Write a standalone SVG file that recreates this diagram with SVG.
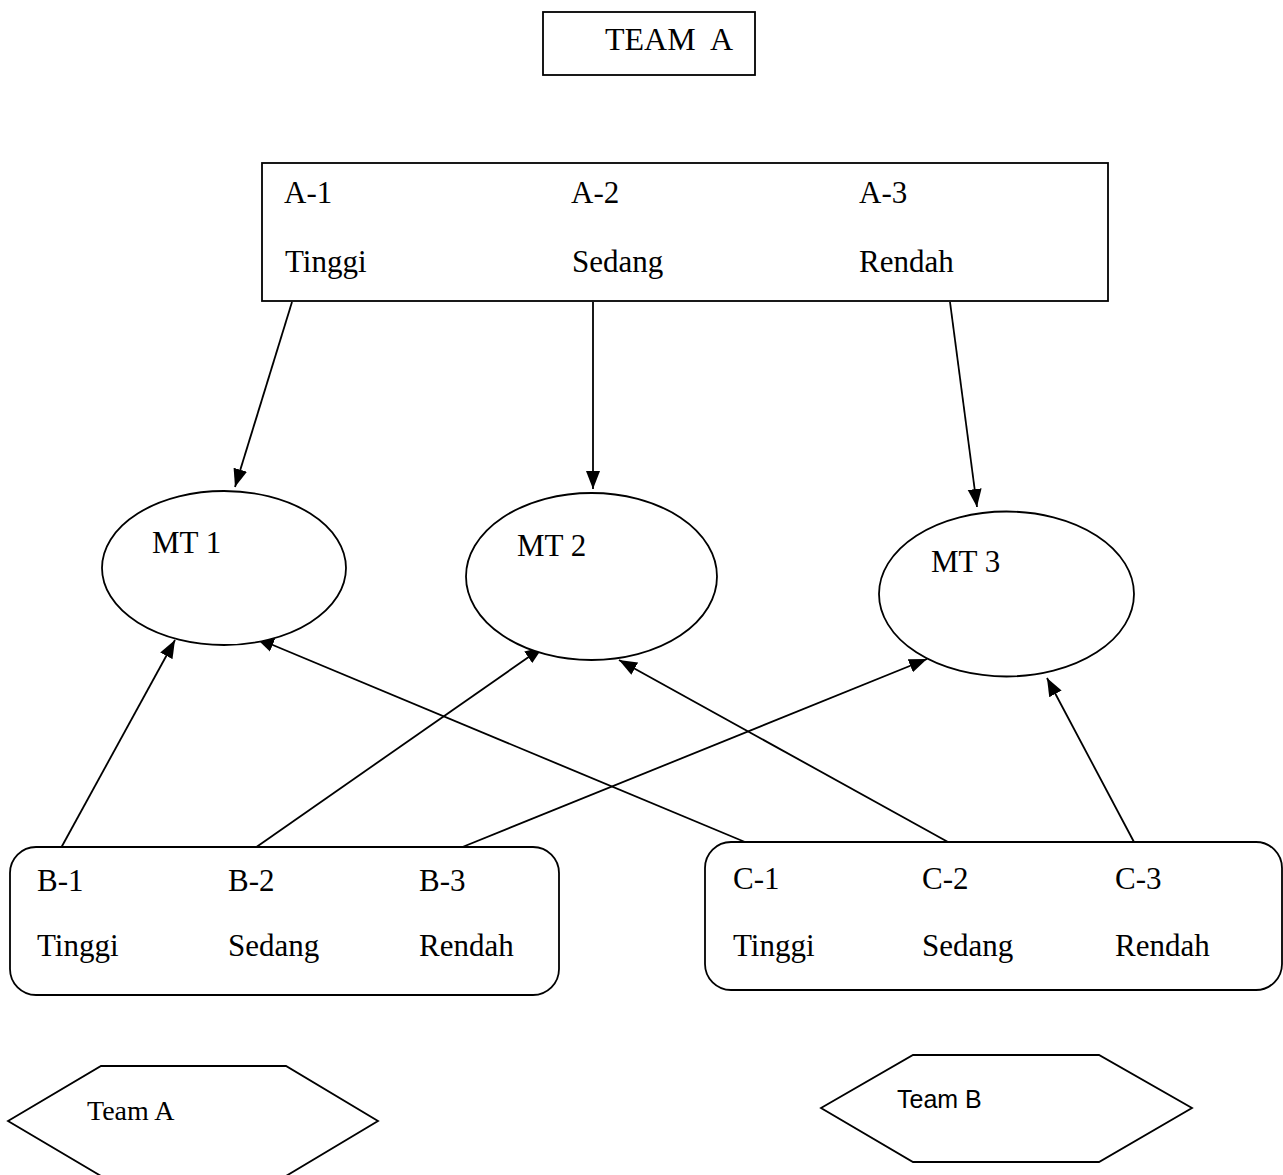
<svg xmlns="http://www.w3.org/2000/svg" width="1283" height="1175" viewBox="0 0 1283 1175">
<style>
.s{fill:#fff;stroke:#000;stroke-width:1.8}
.t{font-family:"Liberation Serif","Times New Roman",serif;font-size:31px;fill:#000}
.c{stroke:#000;stroke-width:1.8;fill:none;marker-end:url(#ah)}
.sans{font-family:"Liberation Sans",Arial,sans-serif;font-size:25px;fill:#000}
</style>
<defs>
<marker id="ah" markerUnits="userSpaceOnUse" markerWidth="20" markerHeight="16" refX="18" refY="7" orient="auto" viewBox="0 0 20 14">
<path d="M0,0 L18,7 L0,14 Z" fill="#000"/>
</marker>
</defs>
<rect width="1283" height="1175" fill="#fff"/>
<g id="connectors">
<line class="c" x1="292" y1="302" x2="235" y2="487"/>
<line class="c" x1="593" y1="302" x2="593" y2="489"/>
<line class="c" x1="950" y1="302" x2="977" y2="507"/>
<line class="c" x1="61" y1="848" x2="175" y2="640"/>
<line class="c" x1="255" y1="848" x2="543" y2="647"/>
<line class="c" x1="460" y1="848" x2="927" y2="659"/>
<line class="c" x1="745" y1="842" x2="256" y2="638"/>
<line class="c" x1="948" y1="842" x2="619" y2="660"/>
<line class="c" x1="1134" y1="842" x2="1047" y2="678"/>
</g>
<g id="teamA-title">
<rect class="s" x="543" y="12" width="212" height="63"/>
<text class="t" x="605" y="50" style="font-size:32px" xml:space="preserve">TEAM  A</text>
</g>
<g id="boxA">
<rect class="s" x="262" y="163" width="846" height="138"/>
<text class="t" x="284" y="203">A-1</text>
<text class="t" x="571" y="203">A-2</text>
<text class="t" x="859" y="203">A-3</text>
<text class="t" x="285" y="272">Tinggi</text>
<text class="t" x="572" y="272">Sedang</text>
<text class="t" x="859" y="272">Rendah</text>
</g>
<g id="mt1">
<ellipse class="s" cx="224" cy="568" rx="122" ry="77"/>
<text class="t" x="152" y="553">MT 1</text>
</g>
<g id="mt2">
<ellipse class="s" cx="591.5" cy="576.5" rx="125.5" ry="83.5"/>
<text class="t" x="517" y="556">MT 2</text>
</g>
<g id="mt3">
<ellipse class="s" cx="1006.5" cy="594" rx="127.5" ry="82.5"/>
<text class="t" x="931" y="572">MT 3</text>
</g>
<g id="boxB">
<rect class="s" x="10" y="847" width="549" height="148" rx="26" ry="26"/>
<text class="t" x="37" y="891">B-1</text>
<text class="t" x="228" y="891">B-2</text>
<text class="t" x="419" y="891">B-3</text>
<text class="t" x="37" y="956">Tinggi</text>
<text class="t" x="228" y="956">Sedang</text>
<text class="t" x="419" y="956">Rendah</text>
</g>
<g id="boxC">
<rect class="s" x="705" y="842" width="577" height="148" rx="26" ry="26"/>
<text class="t" x="733" y="889">C-1</text>
<text class="t" x="922" y="889">C-2</text>
<text class="t" x="1115" y="889">C-3</text>
<text class="t" x="733" y="956">Tinggi</text>
<text class="t" x="922" y="956">Sedang</text>
<text class="t" x="1115" y="956">Rendah</text>
</g>
<g id="hexA">
<polygon class="s" points="8,1121 101,1066 286,1066 378,1121 286,1176 101,1176"/>
<text class="t" x="87" y="1120" style="font-size:28px">Team A</text>
</g>
<g id="hexB">
<polygon class="s" points="821,1108 913,1055 1099,1055 1192,1108 1099,1162 913,1162"/>
<text class="sans" x="897" y="1108">Team B</text>
</g>
</svg>
